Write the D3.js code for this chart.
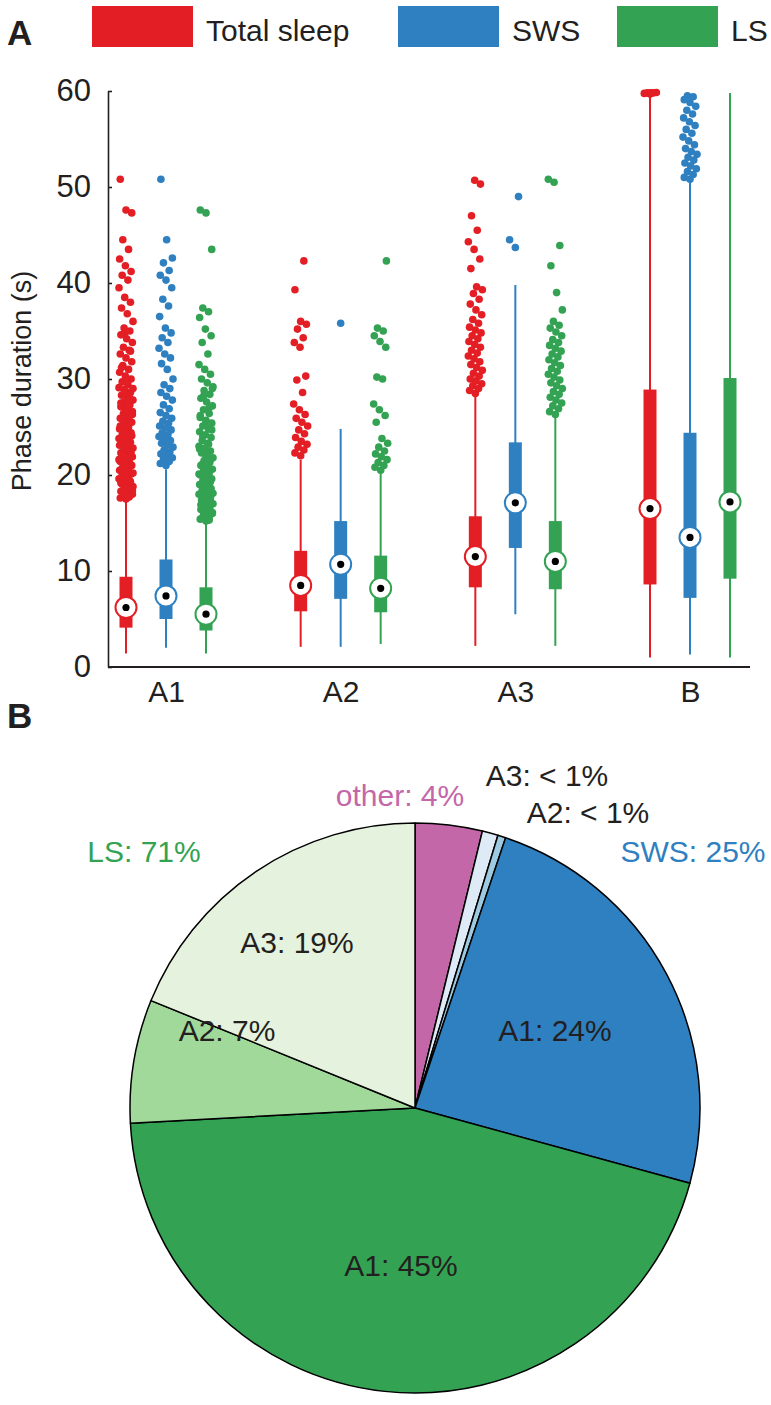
<!DOCTYPE html>
<html>
<head>
<meta charset="utf-8">
<script src="https://cdn.jsdelivr.net/npm/d3@7"></script>
<style>
  html, body { margin: 0; padding: 0; background: #fff; }
  svg { display: block; font-family: "Liberation Sans", Arial, Helvetica, sans-serif; }
</style>
</head>
<body>
<svg id="chart" width="771" height="1405"></svg>
<script>
// ---------------- DATA ----------------
const groups = ['A1', 'A2', 'A3', 'B'];
const seriesNames = ['Total sleep', 'SWS', 'LS'];
const yTicks = [0, 10, 20, 30, 40, 50, 60];

// box statistics per series, one value per group (A1, A2, A3, B)
const totalLow = [1.4, 2.1, 2.2, 1.0];
const totalQ1 = [4.1, 5.8, 8.3, 8.6];
const totalMed = [6.2, 8.5, 11.5, 16.5];
const totalQ3 = [9.4, 12.1, 15.7, 28.9];
const totalHigh = [17.4, 21.6, 28.4, 59.6];

const swsLow = [2.0, 2.1, 5.5, 1.3];
const swsQ1 = [5.0, 7.1, 12.4, 7.2];
const swsMed = [7.4, 10.7, 17.1, 13.5];
const swsQ3 = [11.2, 15.2, 23.4, 24.4];
const swsHigh = [20.6, 24.8, 39.8, 50.6];

const lsLow = [1.4, 2.4, 2.2, 1.0];
const lsQ1 = [3.8, 5.7, 8.1, 9.2];
const lsMed = [5.5, 8.2, 11.0, 17.2];
const lsQ3 = [8.3, 11.6, 15.2, 30.1];
const lsHigh = [15.0, 20.2, 26.1, 59.8];

// outliers
const totalOutA1 = [17.5,17.6,17.8,17.9,18.0,18.2,18.3,18.5,18.6,18.8,19.0,19.1,19.3,19.5,19.6,19.8,20.0,20.1,20.3,20.5,20.7,20.8,21.0,21.2,21.4,21.5,21.7,21.9,22.1,22.3,22.5,22.6,22.8,23.0,23.2,23.4,23.6,23.8,24.0,24.2,24.4,24.6,24.8,25.0,25.2,25.5,25.7,25.9,26.1,26.4,26.6,26.8,27.1,27.3,27.6,27.8,28.1,28.3,28.6,28.9,29.1,29.4,29.7,30.0,30.3,30.7,31.0,31.4,31.8,32.2,32.6,33.0,33.3,33.8,34.2,34.6,35.0,35.3,36.0,36.8,37.4,38.0,38.5,39.5,40.3,40.8,41.2,41.8,42.5,43.5,44.5,47.3,47.6,50.8,
  17.7,18.1,18.4,18.7,19.2,19.4,19.7,20.2,20.4,20.6,21.1,21.3,21.6,21.8,22.2,22.4,22.7,23.1,23.5,23.7,24.1,24.5,25.1,25.4,26.0,26.3,27.0,27.5,28.0,28.5,29.0,29.6,31.2,32.9,34.8];
const totalOutA2 = [22.0,22.3,22.6,22.9,23.2,23.5,23.9,24.3,24.7,25.1,25.5,25.9,26.3,26.8,27.4,28.6,29.9,30.3,33.3,33.8,34.3,35.2,35.7,36.0,39.3,42.3];
const totalOutA3 = [28.5,28.8,29.0,29.3,29.5,29.8,30.0,30.3,30.6,30.9,31.2,31.5,31.8,32.1,32.4,32.7,33.0,33.3,33.6,33.9,34.2,34.5,34.8,35.1,35.4,35.8,36.2,36.7,37.2,37.8,38.3,38.9,39.3,39.6,41.5,42.5,43.5,44.3,45.5,47.0,50.3,50.7];
const totalOutB = [59.7,59.75,59.8,59.8,59.85,59.8];

const swsOutA1 = [21.0,21.2,21.4,21.6,21.8,22.0,22.2,22.4,22.6,22.9,23.1,23.3,23.6,23.8,24.0,24.2,24.4,24.7,24.9,25.1,25.4,25.6,25.9,26.2,26.5,26.9,27.3,27.8,28.2,28.6,29.0,29.4,30.0,31.0,31.6,32.2,32.6,33.2,33.8,34.3,34.8,35.3,36.5,37.6,38.3,39.5,40.3,40.8,41.3,42.1,42.6,44.5,50.8];
const swsOutA2 = [35.8];
const swsOutA3 = [43.7, 44.5, 49.0];
const swsOutB = [50.8,51.0,51.3,51.6,51.9,52.2,52.5,52.8,53.1,53.4,53.7,54.0,54.4,54.8,55.2,55.6,56.0,56.4,56.8,57.2,57.6,58.0,58.4,58.8,59.1,59.4,59.5];

const lsOutA1 = [15.2,15.4,15.6,15.8,16.0,16.2,16.4,16.6,16.8,17.0,17.2,17.4,17.6,17.8,18.0,18.2,18.4,18.6,18.8,19.0,19.2,19.4,19.6,19.8,20.0,20.2,20.4,20.6,20.8,21.0,21.3,21.5,21.8,22.0,22.3,22.5,22.8,23.0,23.3,23.6,23.9,24.2,24.5,24.8,25.1,25.4,25.7,26.0,26.4,26.8,27.2,27.6,28.0,28.4,28.8,29.2,29.6,30.0,30.5,31.0,31.5,32.6,33.8,34.5,35.2,36.4,37.0,37.4,43.5,47.3,47.6,
  15.3,15.7,16.1,16.5,16.9,17.3,17.7,18.1,18.5,18.9,19.3,19.7,20.1,20.5,21.1,21.7,22.2,22.7,23.2,24.0,24.7,25.5,26.2,27.0,28.2,29.0];
const lsOutA2 = [20.5,20.8,21.0,21.3,21.6,21.9,22.2,22.5,22.9,23.3,23.8,25.5,26.2,26.8,27.4,30.0,30.2,33.3,33.9,34.5,35.0,35.3,42.3];
const lsOutA3 = [26.3,26.6,26.9,27.2,27.5,27.8,28.1,28.4,28.7,29.0,29.3,29.6,29.9,30.2,30.5,30.8,31.1,31.4,31.7,32.0,32.3,32.6,32.9,33.2,33.5,33.8,34.1,34.5,34.9,35.3,35.6,36.0,37.2,39.0,41.8,43.9,50.5,50.8];
const lsOutB = [];

// pie (percent of time), clockwise from 12 o'clock
const pieNames = ['other', 'SWS A3', 'SWS A2', 'SWS A1', 'LS A1', 'LS A2', 'LS A3'];
const pieValues = [3.8, 0.9, 0.45, 24.1, 44.9, 7.0, 18.85];
const pieTexts = ['other: 4%', 'A3: < 1%', 'A2: < 1%', 'A1: 24%', 'A1: 45%', 'A2: 7%', 'A3: 19%'];
const pieGroupTexts = ['LS: 71%', 'SWS: 25%'];

// ---------------- STYLE / LAYOUT ----------------
const seriesColors = ['#e31e24', '#2f80c1', '#33a353'];
const pieColors = ['#c367a8', '#deebf7', '#9ecae1', '#2f80c1', '#33a353', '#a1d99b', '#e5f2de'];
const pieTextColors = ['#c367a8', '#231f20', '#231f20', '#231f20', '#231f20', '#231f20', '#231f20'];
const pieGroupColors = ['#33a353', '#2f80c1'];
// label offsets relative to pie centre
const pieTextPos = [[-15, -313], [132, -333], [173, -296], [140, -78], [-14, 157], [-188, -78], [-118, -166]];
const pieGroupPos = [[-271, -257], [278, -257]];

const svg = d3.select('#chart');
svg.append('rect').attr('width', 771).attr('height', 1405).attr('fill', '#fff');

const ink = '#231f20';
const fontFam = '"Liberation Sans", Arial, sans-serif';

// ---------- Panel A ----------
svg.append('text').attr('x', 7).attr('y', 45).attr('font-size', 35).attr('font-weight', 'bold')
  .attr('fill', ink).text('A');

// legend
const legendX = [92, 398, 617];
seriesNames.forEach((name, i) => {
  svg.append('rect').attr('x', legendX[i]).attr('y', 6).attr('width', 101).attr('height', 41)
    .attr('fill', seriesColors[i]);
  svg.append('text').attr('x', legendX[i] + 114).attr('y', 41).attr('font-size', 30)
    .attr('fill', ink).text(name);
});

const y = d3.scaleLinear().domain([0, 60]).range([667, 91]);
const xGroup = d3.scalePoint().domain(groups).range([166, 690]);
const xSeries = d3.scalePoint().domain(seriesNames).range([-40, 40]);

// y axis (ticks pointing inside)
const yAxis = d3.axisLeft(y).tickValues(yTicks).tickSize(-4).tickPadding(17).tickSizeOuter(0);
const yg = svg.append('g').attr('transform', 'translate(108,0)').call(yAxis);
yg.select('.domain').attr('stroke', ink).attr('stroke-width', 1.6);
yg.selectAll('.tick line').attr('stroke', ink).attr('stroke-width', 1.6);
yg.selectAll('.tick text').attr('font-size', 31).attr('fill', ink).attr('font-family', fontFam);

// x axis
const xAxis = d3.axisBottom(xGroup).tickSize(0).tickPadding(14).tickSizeOuter(0);
const xg = svg.append('g').attr('transform', `translate(0,${y(0)})`).call(xAxis);
xg.select('.domain').remove();
xg.append('line').attr('x1', 108).attr('x2', 750).attr('y1', 0).attr('y2', 0)
  .attr('stroke', ink).attr('stroke-width', 2.2);
xg.selectAll('.tick text').attr('font-size', 30).attr('fill', ink).attr('font-family', fontFam);

// axis title
svg.append('text').attr('transform', `translate(31,${(y(0) + y(60)) / 2 + 2}) rotate(-90)`)
  .attr('text-anchor', 'middle').attr('font-size', 27).attr('fill', ink).text('Phase duration (s)');

const stats = [
  { low: totalLow, q1: totalQ1, med: totalMed, q3: totalQ3, high: totalHigh, out: [totalOutA1, totalOutA2, totalOutA3, totalOutB] },
  { low: swsLow, q1: swsQ1, med: swsMed, q3: swsQ3, high: swsHigh, out: [swsOutA1, swsOutA2, swsOutA3, swsOutB] },
  { low: lsLow, q1: lsQ1, med: lsMed, q3: lsQ3, high: lsHigh, out: [lsOutA1, lsOutA2, lsOutA3, lsOutB] }
];

const boxW = 13;
const jitterW = 14;
// deterministic spread of outliers across the column
const jitter = i => ((((i * 37 + 11) % 23) / 22) - 0.5) * jitterW;

const boxes = svg.append('g');
seriesNames.forEach((name, si) => {
  const s = stats[si];
  const col = seriesColors[si];
  groups.forEach((g, gi) => {
    const cx = xGroup(g) + xSeries(name);
    boxes.append('line').attr('x1', cx).attr('x2', cx)
      .attr('y1', y(s.low[gi])).attr('y2', y(s.high[gi]))
      .attr('stroke', col).attr('stroke-width', 2);
    boxes.append('rect').attr('x', cx - boxW / 2).attr('width', boxW)
      .attr('y', y(s.q3[gi])).attr('height', y(s.q1[gi]) - y(s.q3[gi]))
      .attr('fill', col);
    boxes.selectAll(null).data(s.out[gi]).enter().append('circle')
      .attr('cx', (d, i) => cx + jitter(i))
      .attr('cy', d => y(d))
      .attr('r', 3.8)
      .attr('fill', col);
    boxes.append('circle').attr('cx', cx).attr('cy', y(s.med[gi])).attr('r', 10.5)
      .attr('fill', '#fff').attr('stroke', col).attr('stroke-width', 2);
    boxes.append('circle').attr('cx', cx).attr('cy', y(s.med[gi])).attr('r', 3.6)
      .attr('fill', '#000');
  });
});

// ---------- Panel B ----------
svg.append('text').attr('x', 7).attr('y', 728).attr('font-size', 35).attr('font-weight', 'bold')
  .attr('fill', ink).text('B');

const pieCx = 415, pieCy = 1108, pieR = 285;
const pie = d3.pie().sort(null).value(d => d);
const arc = d3.arc().innerRadius(0).outerRadius(pieR);
const pg = svg.append('g').attr('transform', `translate(${pieCx},${pieCy})`);
pg.selectAll('path').data(pie(pieValues)).enter().append('path')
  .attr('d', arc)
  .attr('fill', (d, i) => pieColors[i])
  .attr('stroke', '#000').attr('stroke-width', 1.5).attr('stroke-linejoin', 'round');

pg.selectAll('text.lab').data(pieTexts).enter().append('text')
  .attr('class', 'lab')
  .attr('x', (d, i) => pieTextPos[i][0]).attr('y', (d, i) => pieTextPos[i][1])
  .attr('text-anchor', 'middle').attr('dominant-baseline', 'central')
  .attr('font-size', 30).attr('fill', (d, i) => pieTextColors[i]).text(d => d);

pg.selectAll('text.grp').data(pieGroupTexts).enter().append('text')
  .attr('class', 'grp')
  .attr('x', (d, i) => pieGroupPos[i][0]).attr('y', (d, i) => pieGroupPos[i][1])
  .attr('text-anchor', 'middle').attr('dominant-baseline', 'central')
  .attr('font-size', 30).attr('fill', (d, i) => pieGroupColors[i]).text(d => d);
</script>
</body>
</html>
